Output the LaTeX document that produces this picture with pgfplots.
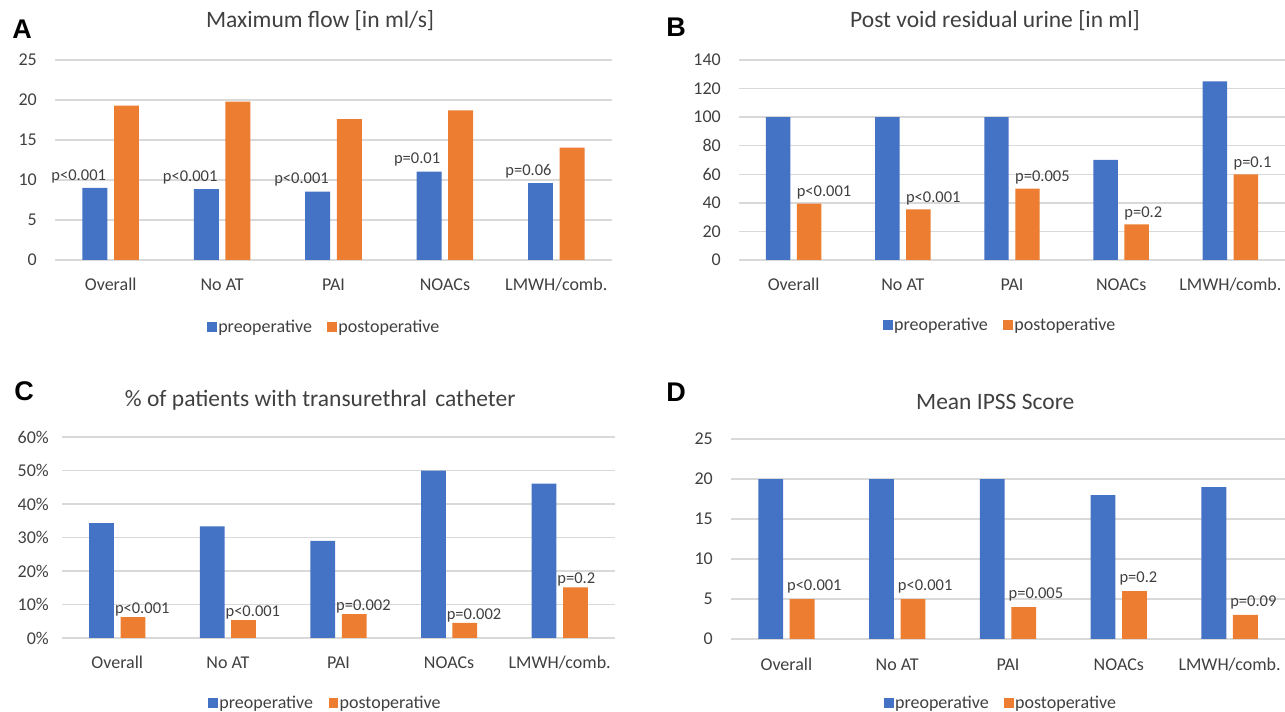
\documentclass[border=0pt]{standalone}
\usepackage{fontspec}
\setmainfont{Carlito}
\newfontfamily\letterfont{Liberation Sans}
\usepackage{pgfplots}
\usepackage{pgfplotstable}
\pgfplotsset{compat=1.18}

\definecolor{pre}{HTML}{4472C4}
\definecolor{post}{HTML}{ED7D31}
\definecolor{gridc}{HTML}{D9D9D9}
\definecolor{txt}{HTML}{404040}

% x = category index, pre/post = bar heights, p = label text
\pgfplotstableread{
x pre post p
0 9.0 19.3 p<0.001
1 8.85 19.8 p<0.001
2 8.55 17.6 p<0.001
3 11.05 18.7 p=0.01
4 9.6 14.05 p=0.06
}\tabA
\pgfplotstableread{
x pre post p
0 100 39.5 p<0.001
1 100 35.5 p<0.001
2 100 50 p=0.005
3 70 25 p=0.2
4 125 60 p=0.1
}\tabB
\pgfplotstableread{
x pre post p
0 34.3 6.2 p<0.001
1 33.3 5.3 p<0.001
2 29.0 7.1 p=0.002
3 50 4.5 p=0.002
4 46.1 15.1 p=0.2
}\tabC
\pgfplotstableread{
x pre post p
0 20 5 p<0.001
1 20 5 p<0.001
2 20 4 p=0.005
3 18 6 p=0.2
4 19 3 p=0.09
}\tabD

\pgfplotsset{
  panel/.style={
    scale only axis, height=200pt,
    xmin=-0.5, xmax=4.5,
    xtick={0,1,2,3,4},
    xticklabels={Overall,No AT,PAI,NOACs,LMWH/comb.},
    axis line style={draw=none},
    major tick length=0pt,
    ymajorgrids, grid style={gridc, line width=1.3pt},
    tick label style={font=\fontsize{18}{21}\selectfont, text=txt},
    /pgf/number format/assume math mode=true,
    xticklabel style={anchor=base, yshift=-31pt, inner sep=0pt},
    yticklabel style={anchor=east, inner sep=0pt, xshift=-18pt},
    title style={font=\fontsize{23.5}{28}\selectfont, text=txt, anchor=center},
    legend style={draw=none, fill=none, anchor=center, legend columns=-1,
      font=\fontsize{18}{21}\selectfont, text=txt,
      /tikz/every even column/.append style={column sep=14pt},
      nodes={inner sep=1.5pt}},
    legend image code/.code={\fill[#1] (0pt,-4.8pt) rectangle (9.5pt,4.8pt);},
  },
  preb/.style={ybar, bar width=0.224, bar shift=-0.142, fill=pre, draw=none},
  postb/.style={ybar, bar width=0.224, bar shift=0.142, fill=post, draw=none},
  % labels sit at the category centre; xshift moves them to the bar edge
  plab/.style={nodes near coords, point meta=explicit symbolic,
    nodes near coords style={font=\fontsize{16.5}{20}\selectfont, text=txt, inner sep=0pt}},
}

\begin{document}
\begin{tikzpicture}
\useasboundingbox (0,0) rectangle (1285pt,712pt);

% A
\begin{axis}[panel, at={(55pt,452pt)}, anchor=south west, width=557pt,
  ymin=0, ymax=25, ytick={0,5,...,25},
  title={Maximum flow [in ml/s]}, title style={at={(0.476,1.165)}},
  legend style={at={(0.483,-0.335)}}]
\addplot[preb, plab, nodes near coords style={anchor=south east, xshift=-4.5pt, yshift=5pt}]
  table[x=x, y=pre, meta=p] {\tabA};
\addplot[postb] table[x=x, y=post] {\tabA};
\legend{preoperative, postoperative}
\end{axis}

% B
\begin{axis}[panel, at={(739pt,452pt)}, anchor=south west, width=546pt,
  ymin=0, ymax=140, ytick={0,20,...,140},
  title={Post void residual urine [in ml]}, title style={at={(0.469,1.165)}},
  legend style={at={(0.478,-0.325)}}]
\addplot[preb] table[x=x, y=pre] {\tabB};
\addplot[postb, plab, nodes near coords style={anchor=south west, xshift=3pt, yshift=4pt}]
  table[x=x, y=post, meta=p] {\tabB};
\legend{preoperative, postoperative}
\end{axis}

% C
\begin{axis}[panel, at={(62pt,74pt)}, anchor=south west, width=553pt, height=201pt,
  ymin=0, ymax=60, ytick={0,10,...,60},
  yticklabel={\pgfmathprintnumber{\tick}\%},
  yticklabel style={xshift=5pt},
  title={\% of patients with transurethral\hspace{3pt} catheter}, title style={at={(0.467,1.155)}},
  legend style={at={(0.476,-0.323)}}]
\addplot[preb] table[x=x, y=pre] {\tabC};
\addplot[postb, plab, nodes near coords style={anchor=south west, xshift=-2.5pt, yshift=1pt}]
  table[x=x, y=post, meta=p] {\tabC};
\legend{preoperative, postoperative}
\end{axis}

% D
\begin{axis}[panel, at={(731pt,73pt)}, anchor=south west, width=554pt,
  ymin=0, ymax=25, ytick={0,5,...,25},
  title={Mean IPSS Score}, title style={at={(0.477,1.155)}},
  legend style={at={(0.487,-0.32)}}]
\addplot[preb] table[x=x, y=pre] {\tabD};
\addplot[postb, plab, nodes near coords style={anchor=south west, xshift=0.5pt, yshift=6pt}]
  table[x=x, y=post, meta=p] {\tabD};
\legend{preoperative, postoperative}
\end{axis}

% panel letters
\begin{scope}[every node/.style={font=\letterfont\bfseries\fontsize{27}{30}\selectfont}]
\node at (22pt,683pt) {A};
\node at (676pt,685pt) {B};
\node at (24pt,321pt) {C};
\node at (676pt,320pt) {D};
\end{scope}
\end{tikzpicture}
\end{document}
